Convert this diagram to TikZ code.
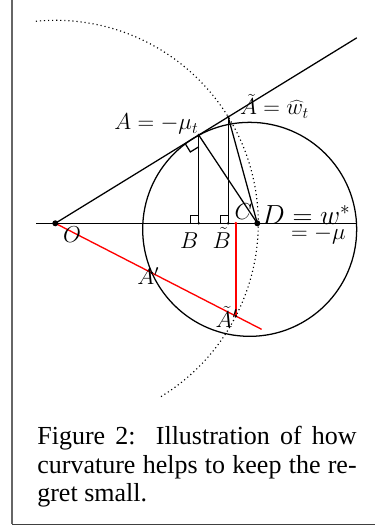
\documentclass[tikz,border=0pt]{standalone}
\usepackage{fontspec}
\newfontfamily\capfont{Liberation Serif}
\usetikzlibrary{calc,intersections}
\begin{document}
\begin{tikzpicture}[x=0.75pt,y=0.75pt,
  every path/.style={line width=0.95pt},
  lab/.style={inner sep=0pt, font=\fontsize{18.75}{22}\selectfont},
  biglab/.style={inner sep=0pt, font=\fontsize{20.5}{24}\selectfont},
  smalllab/.style={inner sep=0pt, font=\fontsize{18}{22}\selectfont},
  bigdot/.style={fill=black, draw=none},
  smalldot/.style={fill=black, draw=none},
  dottedline/.style={line width=0.85pt, dash pattern=on 0.85pt off 2.2pt},
  redline/.style={draw=red, line width=1pt}]
\useasboundingbox (0,0) rectangle (375,528);
% frame
\coordinate (f1) at (12,528);
\coordinate (f2) at (12,3.5);
\coordinate (f3) at (375,3.5);
\draw[gray!80!black, line width=1pt] (f1) -- (f2);
\draw[black!75, line width=1pt] (f2) -- (f3);
% points
\coordinate (O) at (55.3,304.7);
\coordinate (D) at (257.3,304.7);
\coordinate (axL) at (36,304.7);
\coordinate (axR) at (356.7,304.7);
\coordinate (A) at ($(O)+(31.6:168.4)$);
\coordinate (At) at ($(O)+(31.6:203)$);
\coordinate (T) at ($(O)+(31.6:162.4)$);
\coordinate (Cc) at ($(T)+(-58.4:107)$);
\coordinate (Lend) at ($(O)+(31.6:354)$);
\coordinate (B) at (A |- O);
\coordinate (Bt) at (At |- O);
\coordinate (Atp) at ($(O)+(-27.2:203)$);
\coordinate (C) at (Atp |- O);
\coordinate (Rend) at ($(O)+(-27.2:232)$);
\coordinate (ArcS) at ($(O)+(95.5:203)$);
% dotted arc
\draw[dottedline] (ArcS) arc[start angle=95.5, end angle=-59.2, radius=203];
% circle
\draw[name path=circ] (Cc) circle (107);
% axis and tangent
\draw (axL) -- (axR);
\draw (O) -- (Lend);
% verticals and to D
\draw (A) -- (B);
\draw (At) -- (Bt);
\draw (A) -- (D);
\draw (At) -- (D);
% right angle marks
\draw ($(T)+(211.6:10)$) -- ++(-58.4:10) -- ($(T)+(-58.4:10)$);
\draw ($(B)+(-8,0)$) -- ++(0,8) -- ($(B)+(0,8)$);
\draw ($(Bt)+(-8,0)$) -- ++(0,8) -- ($(Bt)+(0,8)$);
% red
\draw[redline, name path=redl] (O) -- (Rend);
\draw[redline, line width=1.2pt] (Atp) -- (C);
\path[name intersections={of=circ and redl, by={Ap}}];
% dots
\fill[bigdot] (O) circle (3);
\fill[bigdot] (D) circle (3);
\fill[smalldot] (A) circle (1.4);
\fill[smalldot] (At) circle (1.4);
\fill[smalldot] (B) circle (1.4);
\fill[smalldot] (Bt) circle (1.4);
\fill[smalldot] (Ap) circle (1.4);
\fill[smalldot] (Atp) circle (1.4);
\fill[red] (C) circle (1.6);
% labels
\node[lab, anchor=base west] (lO) at (62.5,285) {$O$};
\node[lab, anchor=base west] (lB) at (179.5,279.7) {$B$};
\node[lab, anchor=base west] (lBt) at (212,279.7) {$\tilde{B}$};
\node[lab, anchor=base west] (lC) at (234,308) {$C$};
\node[biglab, anchor=base west] (lD) at (261,303.7) {$D=w^*$};
\node[smalllab, anchor=base west] (lmu) at (290.5,288) {$=-\mu$};
\node[lab, anchor=base west] (lAp) at (136.7,243) {$A'$};
\node[lab, anchor=base west] (lAtp) at (215,200.7) {$\tilde{A}'$};
\node[lab, anchor=base east] (lA) at (199,398) {$A=-\mu_t$};
\node[smalllab, anchor=base west] (lAt) at (239.5,413) {$\tilde{A}=\widehat{w}_t$};
% caption
\node[inner sep=0pt, anchor=base west, text width=239.5pt, align=justify,
  font=\capfont\fontsize{19.5}{21.2}\selectfont] (cap) at (36.7,83)
  {Figure 2:\ \ Illustration of how\linebreak curvature helps to keep the re-\linebreak gret small.};
\end{tikzpicture}
\end{document}
